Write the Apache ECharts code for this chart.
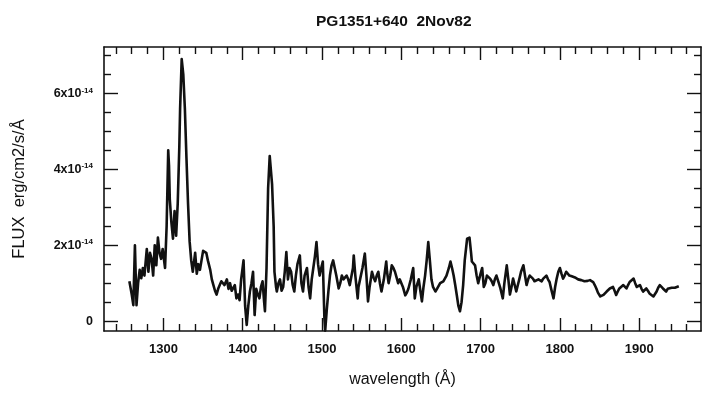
<!DOCTYPE html>
<html>
<head>
<meta charset="utf-8">
<title>PG1351+640 2Nov82</title>
<script src="https://cdn.jsdelivr.net/npm/echarts@6/dist/echarts.min.js"></script>
<style>
  html, body { margin: 0; padding: 0; background: #fff; }
  #chart { width: 703px; height: 393px; }
</style>
</head>
<body>
<div id="chart"></div>
<script>
// wavelength in Angstrom, flux in units of 1e-14 erg/cm2/s/A
const wavelength = [
  1257, 1260, 1262, 1264, 1266, 1268, 1270, 1272, 1274, 1276, 1279, 1281, 1283, 1285, 1287, 1289, 1291, 1293, 1295, 1297,
  1299, 1302, 1304, 1306, 1307, 1308, 1310, 1312, 1314, 1316, 1318, 1320, 1321, 1323, 1325, 1327, 1329, 1331, 1333, 1335,
  1337, 1339, 1340, 1342, 1344, 1346, 1348, 1350, 1352, 1354, 1356, 1359, 1361, 1363, 1365, 1367, 1369, 1371, 1373, 1375,
  1377, 1380, 1382, 1384, 1386, 1388, 1390, 1392, 1394, 1396, 1398, 1401, 1403, 1405, 1407, 1409, 1411, 1413, 1415, 1417,
  1419, 1421, 1423, 1425, 1427, 1428, 1430, 1432, 1434, 1436, 1437, 1439, 1440, 1442, 1443, 1445, 1447, 1449, 1451, 1453,
  1455, 1457, 1459, 1461, 1463, 1465, 1467, 1469, 1472, 1474, 1476, 1478, 1481, 1483, 1485, 1487, 1489, 1491, 1493, 1495,
  1497, 1499, 1501, 1503, 1504, 1506, 1508, 1510, 1512, 1514, 1516, 1518, 1521, 1523, 1525, 1527, 1529, 1531, 1533, 1535,
  1537, 1539, 1540, 1542, 1545, 1546, 1548, 1551, 1554, 1556, 1558, 1560, 1563, 1565, 1567, 1569, 1571, 1573, 1575, 1578,
  1581, 1582, 1584, 1586, 1588, 1590, 1592, 1594, 1596, 1598, 1600, 1602, 1605, 1607, 1609, 1612, 1615, 1617, 1619, 1622,
  1624, 1626, 1628, 1630, 1632, 1634, 1636, 1638, 1640, 1643, 1645, 1647, 1649, 1651, 1653, 1655, 1657, 1660, 1662, 1664,
  1666, 1668, 1670, 1672, 1674, 1676, 1678, 1680, 1683, 1686, 1688, 1689, 1691, 1693, 1695, 1697, 1700, 1702, 1704, 1706,
  1708, 1710, 1712, 1714, 1716, 1718, 1720, 1723, 1725, 1728, 1730, 1733, 1735, 1737, 1739, 1741, 1743, 1745, 1747, 1749,
  1751, 1754, 1756, 1758, 1760, 1762, 1764, 1766, 1768, 1770, 1773, 1775, 1777, 1779, 1781, 1783, 1785, 1787, 1789, 1792,
  1794, 1796, 1798, 1800, 1802, 1804, 1806, 1808, 1810, 1812, 1815, 1817, 1819, 1821, 1823, 1825, 1827, 1829, 1831, 1833,
  1835, 1838, 1840, 1842, 1844, 1846, 1848, 1851, 1853, 1855, 1857, 1859, 1861, 1863, 1865, 1867, 1869, 1871, 1873, 1875,
  1877, 1880, 1882, 1884, 1886, 1888, 1890, 1893, 1895, 1897, 1899, 1901, 1903, 1905, 1907, 1909, 1911, 1913, 1915, 1918,
  1920, 1922, 1924, 1926, 1928, 1930, 1932, 1934, 1936, 1938, 1941, 1943, 1945, 1947, 1950
];
const flux = [
  1.05, 0.7, 0.42, 2.0, 0.42, 1.0, 1.35, 1.13, 1.4, 1.2, 1.9, 1.3, 1.8, 1.64, 1.2, 2.0, 1.47, 2.2, 1.8, 1.64,
  1.9, 1.4, 2.5, 4.5, 4.1, 3.2, 2.6, 2.17, 2.9, 2.25, 3.1, 4.6, 5.6, 6.9, 6.5, 5.6, 4.3, 3.1, 2.1, 1.6,
  1.3, 1.25, 1.8, 1.25, 1.5, 1.35, 1.6, 1.85, 1.9, 1.8, 1.6, 1.35, 1.1, 0.95, 0.8, 0.7, 0.85, 0.9, 1.05, 1.1,
  0.95, 1.1, 0.85, 1.0, 0.8, 0.75, 0.95, 0.6, 0.7, 0.55, 1.1, 1.6, 0.4, -0.1, 0.4, 0.78, 1.0, 1.3, 0.16, 0.85,
  0.7, 0.6, 0.9, 1.05, 0.5, 0.26, 1.4, 3.5, 4.35, 4.3, 3.6, 2.5, 1.3, 0.9, 0.78, 1.0, 1.1, 0.8, 0.9, 1.3,
  1.82, 1.1, 1.4, 1.3, 0.95, 0.78, 1.2, 1.5, 1.73, 1.0, 0.78, 1.2, 1.4, 0.9, 0.6, 1.1, 1.4, 1.7, 2.08, 1.5,
  1.2, 1.4, 1.57, 0.08, -0.25, 0.3, 0.78, 1.2, 1.47, 1.6, 1.57, 1.2, 0.86, 1.0, 1.2, 1.1, 1.05, 1.2, 1.1, 0.95,
  1.0, 1.4, 1.73, 1.2, 0.6, 0.9, 1.1, 1.4, 1.78, 1.2, 0.52, 0.9, 1.3, 1.15, 1.05, 1.2, 1.3, 1.0, 0.78, 1.1,
  1.57, 1.3, 1.0, 1.2, 1.47, 1.4, 1.3, 1.15, 1.0, 1.1, 1.05, 0.9, 0.68, 0.75, 0.86, 1.1, 1.4, 0.6, 0.9, 1.1,
  0.8, 0.52, 0.9, 1.2, 1.6, 2.08, 1.6, 1.1, 0.9, 0.78, 0.85, 0.86, 1.0, 0.95, 1.05, 1.1, 1.2, 1.4, 1.57, 1.4,
  1.2, 0.95, 0.68, 0.4, 0.26, 0.5, 0.95, 1.6, 2.17, 2.2, 1.8, 1.57, 1.6, 1.47, 1.2, 1.0, 1.25, 1.4, 0.9, 1.0,
  1.2, 1.2, 1.12, 1.05, 0.95, 1.1, 1.2, 1.0, 0.86, 0.6, 1.0, 1.47, 1.1, 0.7, 0.9, 1.12, 0.95, 0.78, 0.95, 1.12,
  1.3, 1.47, 1.2, 0.95, 1.1, 1.2, 1.15, 1.12, 1.05, 1.03, 1.1, 1.12, 1.05, 1.12, 1.15, 1.2, 1.1, 1.03, 0.85, 0.6,
  0.9, 1.12, 1.3, 1.4, 1.25, 1.12, 1.2, 1.3, 1.25, 1.2, 1.18, 1.2, 1.15, 1.15, 1.1, 1.12, 1.08, 1.12, 1.05, 1.03,
  1.06, 1.08, 1.05, 1.03, 0.95, 0.86, 0.75, 0.65, 0.67, 0.69, 0.74, 0.78, 0.82, 0.86, 0.88, 0.9, 0.8, 0.69, 0.78, 0.86,
  0.9, 0.95, 0.9, 0.86, 0.95, 1.03, 1.08, 1.12, 1.0, 0.9, 0.92, 0.95, 0.85, 0.78, 0.82, 0.86, 0.8, 0.73, 0.7, 0.65,
  0.7, 0.78, 0.88, 0.95, 0.9, 0.86, 0.82, 0.78, 0.85, 0.9, 0.88, 0.86, 0.88, 0.9, 0.92
];

const xMajor = [1300, 1400, 1500, 1600, 1700, 1800, 1900];
const xMinor = [1240, 1260, 1280, 1320, 1340, 1360, 1380, 1420, 1440, 1460, 1480, 1520, 1540, 1560, 1580,
  1620, 1640, 1660, 1680, 1720, 1740, 1760, 1780, 1820, 1840, 1860, 1880, 1920, 1940, 1960];
const yMajor = [0, 2, 4, 6];
const yMinor = [0.5, 1, 1.5, 2.5, 3, 3.5, 4.5, 5, 5.5, 6.5, 7];

const X_MIN = 1225, X_MAX = 1978;
const Y_MIN = -0.26, Y_MAX = 7.22;

const ink = '#111';
const font = '"Liberation Sans", Arial, Helvetica, sans-serif';

// one axis that only draws ticks (and optionally the frame line)
function frameAxis(kind, position, ticks, len, withLine) {
  const isX = kind === 'x';
  return {
    type: 'value',
    position: position,
    min: isX ? X_MIN : Y_MIN,
    max: isX ? X_MAX : Y_MAX,
    splitLine: { show: false },
    axisLine: { show: withLine, onZero: false, lineStyle: { color: ink, width: 1.6 } },
    axisTick: { show: true, inside: true, length: len, customValues: ticks, lineStyle: { color: ink, width: 1.4 } },
    axisLabel: { show: false }
  };
}

const xAxes = [
  frameAxis('x', 'bottom', xMajor, 13, true),
  frameAxis('x', 'bottom', xMinor, 7, false),
  frameAxis('x', 'top', xMajor, 13, true),
  frameAxis('x', 'top', xMinor, 7, false)
];
xAxes[0].axisLabel = {
  show: true, customValues: xMajor, margin: 12,
  formatter: v => String(v),
  color: ink, fontFamily: font, fontSize: 13, fontWeight: 'bold'
};
xAxes[0].name = 'wavelength (Å)';
xAxes[0].nameLocation = 'middle';
xAxes[0].nameGap = 41;
xAxes[0].nameTextStyle = { color: ink, fontFamily: font, fontSize: 16 };

const yAxes = [
  frameAxis('y', 'left', yMajor, 14, true),
  frameAxis('y', 'left', yMinor, 7, false),
  frameAxis('y', 'right', yMajor, 14, true),
  frameAxis('y', 'right', yMinor, 7, false)
];
yAxes[0].axisLabel = {
  show: true, customValues: yMajor, margin: 11,
  formatter: v => v === 0 ? '{a|0}' : '{a|' + v + 'x10}{b|-14}',
  rich: {
    a: { color: ink, fontFamily: font, fontSize: 12.5, fontWeight: 'bold' },
    b: { color: ink, fontFamily: font, fontSize: 8, fontWeight: 'bold', verticalAlign: 'top', padding: [0, 0, 6, 0] }
  }
};
yAxes[0].name = 'FLUX  erg/cm2/s/Å';
yAxes[0].nameLocation = 'middle';
yAxes[0].nameGap = 76;
yAxes[0].nameTextStyle = { color: ink, fontFamily: font, fontSize: 16.5 };

const chart = echarts.init(document.getElementById('chart'), null, { renderer: 'canvas' });
chart.setOption({
  animation: false,
  backgroundColor: '#fff',
  title: {
    text: 'PG1351+640  2Nov82',
    left: 311, top: 9,
    textStyle: { color: ink, fontFamily: font, fontSize: 15.5, fontWeight: 'bold' }
  },
  grid: { left: 104, right: 2, top: 47, bottom: 60 },
  xAxis: xAxes,
  yAxis: yAxes,
  series: [{
    type: 'line',
    xAxisIndex: 0,
    yAxisIndex: 0,
    showSymbol: false,
    data: wavelength.map((w, i) => [w, flux[i]]),
    lineStyle: { color: ink, width: 2.6, join: 'round' }
  }]
});
</script>
</body>
</html>
